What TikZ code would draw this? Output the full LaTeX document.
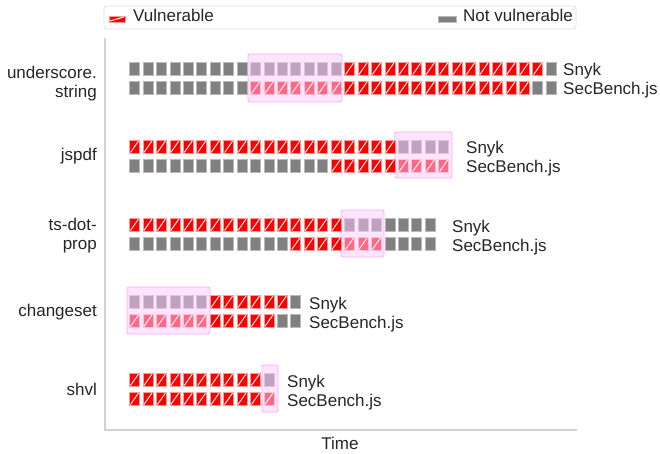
\documentclass[tikz,border=0pt]{standalone}
\usepackage{fontspec}
\setmainfont{Liberation Sans}
\definecolor{offgray}{RGB}{128,128,128}
\definecolor{offhl}{RGB}{192,162,192}
\definecolor{vulred}{RGB}{255,0,0}
\definecolor{vulhl}{RGB}{255,105,135}
\definecolor{hlfill}{RGB}{255,228,255}
\definecolor{hlborder}{RGB}{245,175,245}
\definecolor{inkgray}{RGB}{38,38,38}
\begin{document}
\begin{tikzpicture}[x=1pt, y=-1pt,
    every node/.style={font=\fontsize{17}{19}\selectfont, inner sep=0pt, text=inkgray},
    sq/.style={line width=0.6pt},
    off/.style={sq, fill=offgray, draw=offgray!55},
    offhl/.style={sq, fill=offhl, draw=offhl!60},
    hatch/.style={path picture={\draw[white, line width=0.9pt] ([shift={(1pt,1pt)}]path picture bounding box.south west) -- ([shift={(-1pt,-1pt)}]path picture bounding box.north east);}},
    vul/.style={sq, fill=vulred, draw=vulred!40, hatch},
    vulhl/.style={sq, fill=vulhl, draw=vulhl!40, hatch},
    hl/.style={fill=hlfill, draw=hlborder, line width=0.8pt, rounded corners=2pt},
    spine/.style={draw=gray!35, line width=1.2pt}]
    \useasboundingbox[fill=white] (0,0) rectangle (660,454);
    \def \w {10}
    \def \hgt {13.5}
    \def \p {13.44}
    \def \xo {129.5}
    \def\bars#1#2{\foreach \s/\n/\k in {#2} {\foreach \i in {1,...,\n} {\path[\k] ({\xo+(\s+\i-1)*\p},#1) rectangle ++(\w,\hgt);}}}
    % legend
    \draw[rounded corners=3pt, draw=gray!25, line width=0.8pt] (104,6) rectangle (576,29);
    \path[vul] (109,16) rectangle (125,22);
    \node[anchor=base west] (leg1) at (133,22) {Vulnerable};
    \path[off] (438,16.5) rectangle (456,22.5);
    \node[anchor=base west] (leg2) at (463,22) {Not vulnerable};
    % axes
    \draw[spine] (105,38) -- (105,430) -- (577,430);
    \node (time) at (340,443) {Time};
    % highlighted windows
    \path[hl] (248,54) rectangle (342,102);
    \path[hl] (395,132) rectangle (452,178);
    \path[hl] (341,210) rectangle (384,257);
    \path[hl] (127,287) rectangle (210,334);
    \path[hl] (262,365) rectangle (278,412);
    % underscore.string
    \bars{62}{0/9/off, 9/7/offhl, 16/15/vul, 31/1/off}
    \bars{81}{0/9/off, 9/7/vulhl, 16/14/vul, 30/2/off}
    % jspdf
    \bars{140}{0/20/vul, 20/4/offhl}
    \bars{159}{0/15/off, 15/5/vul, 20/4/vulhl}
    % ts-dot-prop
    \bars{218}{0/16/vul, 16/3/offhl, 19/4/off}
    \bars{237}{0/12/off, 12/4/vul, 16/3/vulhl, 19/4/off}
    % changeset
    \bars{295}{0/6/offhl, 6/6/vul, 12/1/off}
    \bars{314}{0/6/vulhl, 6/5/vul, 11/2/off}
    % shvl
    \bars{373}{0/10/vul, 10/1/offhl}
    \bars{392}{0/10/vul, 10/1/vulhl}
    % package names
    \node[anchor=east, align=right] (p1) at (97,84) {underscore.\\string};
    \node[anchor=east] (p2) at (97,156) {jspdf};
    \node[anchor=east, align=right] (p3) at (97,236) {ts-dot-\\prop};
    \node[anchor=east] (p4) at (97,312) {changeset};
    \node[anchor=east] (p5) at (97,389) {shvl};
    % sources
    \node[anchor=base west] (snyk1) at (563,76) {Snyk};
    \node[anchor=base west] (sec1) at (563,95) {SecBench.js};
    \node[anchor=base west] (snyk2) at (466,154) {Snyk};
    \node[anchor=base west] (sec2) at (466,173) {SecBench.js};
    \node[anchor=base west] (snyk3) at (452,232) {Snyk};
    \node[anchor=base west] (sec3) at (452,251) {SecBench.js};
    \node[anchor=base west] (snyk4) at (309,309) {Snyk};
    \node[anchor=base west] (sec4) at (309,328) {SecBench.js};
    \node[anchor=base west] (snyk5) at (287,387) {Snyk};
    \node[anchor=base west] (sec5) at (287,406) {SecBench.js};
\end{tikzpicture}
\end{document}
